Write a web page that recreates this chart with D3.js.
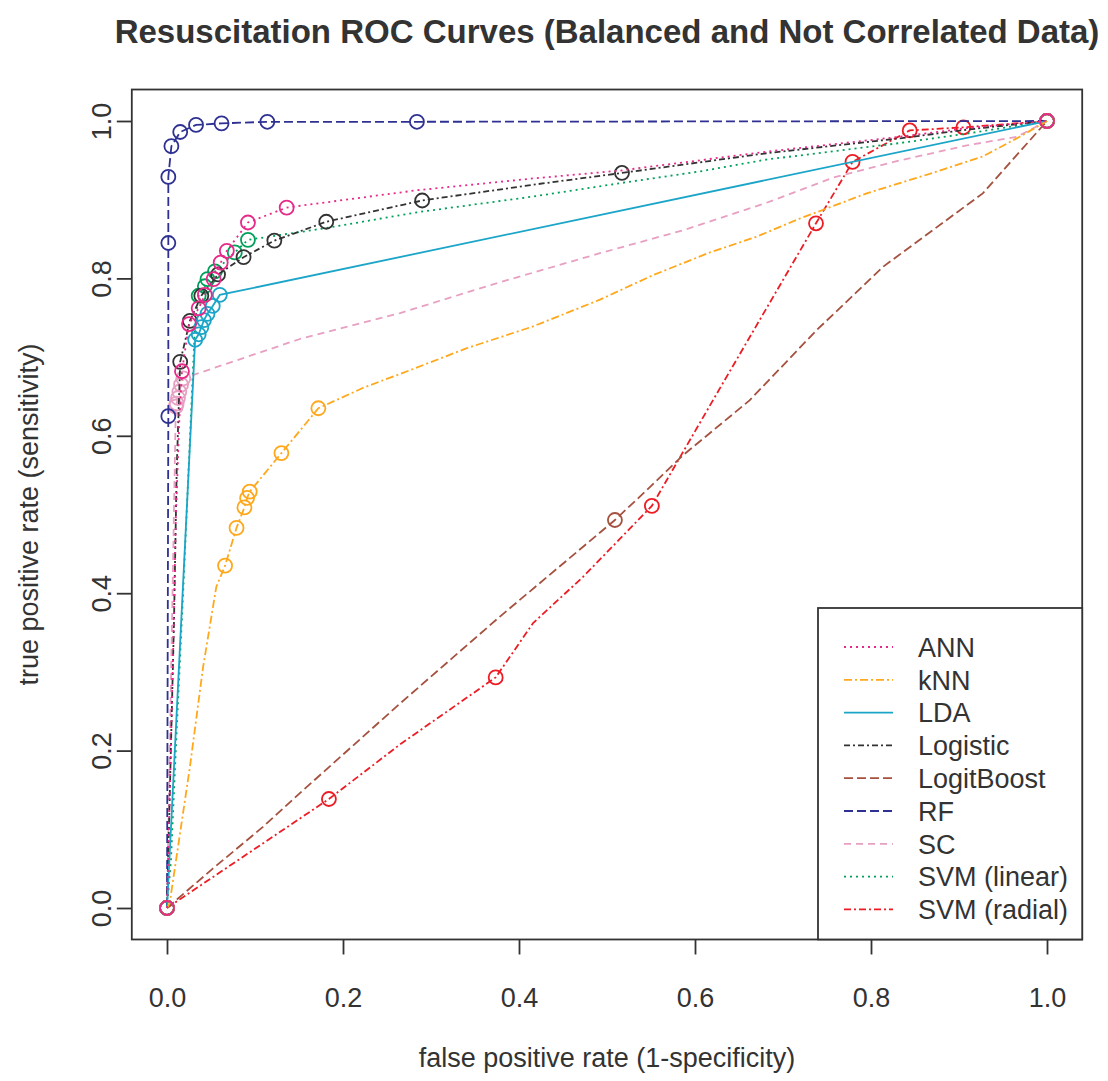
<!DOCTYPE html>
<html>
<head>
<meta charset="utf-8">
<script src="https://cdn.jsdelivr.net/npm/d3@7"></script>
<style>
  body { margin: 0; background: #fff; }
  svg text { font-family: "Liberation Sans", Arial, Helvetica, sans-serif; fill: #333; }
</style>
</head>
<body>
<script>
// model names, legend order
const models = ["ANN", "kNN", "LDA", "Logistic", "LogitBoost", "RF", "SC", "SVM (linear)", "SVM (radial)"];

// ROC curves (false positive rate / true positive rate)
const annFpr = [0, 0.003, 0.007, 0.010, 0.014, 0.017, 0.025, 0.036, 0.043, 0.053, 0.061, 0.068, 0.092, 0.136, 0.284, 0.416, 0.515, 0.681, 0.833, 0.909, 1];
const annTpr = [0, 0.137, 0.328, 0.493, 0.620, 0.682, 0.742, 0.762, 0.779, 0.799, 0.820, 0.835, 0.871, 0.890, 0.912, 0.927, 0.937, 0.961, 0.980, 0.991, 1];
const annMarks = [0, 5, 6, 7, 8, 9, 10, 11, 12, 13, 20];

const knnFpr = [0, 0.003, 0.026, 0.041, 0.056, 0.066, 0.079, 0.088, 0.091, 0.094, 0.130, 0.172, 0.223, 0.280, 0.340, 0.416, 0.492, 0.552, 0.617, 0.670, 0.719, 0.795, 0.870, 0.927, 0.969, 1];
const knnTpr = [0, 0.006, 0.179, 0.306, 0.408, 0.435, 0.483, 0.509, 0.521, 0.529, 0.578, 0.635, 0.661, 0.685, 0.711, 0.739, 0.773, 0.804, 0.833, 0.853, 0.876, 0.908, 0.934, 0.955, 0.980, 1];
const knnMarks = [0, 5, 6, 7, 8, 9, 10, 11, 25];

const ldaFpr = [0, 0.032, 0.036, 0.039, 0.042, 0.046, 0.052, 0.060, 1];
const ldaTpr = [0, 0.722, 0.729, 0.738, 0.747, 0.755, 0.765, 0.779, 1];
const ldaMarks = [0, 1, 2, 3, 4, 5, 6, 7, 8];

const logFpr = [0, 0.003, 0.008, 0.011, 0.015, 0.026, 0.039, 0.058, 0.087, 0.122, 0.181, 0.290, 0.416, 0.517, 0.681, 0.833, 0.909, 1];
const logTpr = [0, 0.137, 0.366, 0.556, 0.694, 0.746, 0.778, 0.805, 0.827, 0.848, 0.872, 0.899, 0.919, 0.934, 0.959, 0.978, 0.989, 1];
const logMarks = [0, 4, 5, 6, 7, 8, 9, 10, 11, 13, 17];

const lbFpr = [0, 0.052, 0.109, 0.151, 0.265, 0.378, 0.509, 0.549, 0.586, 0.662, 0.738, 0.814, 0.927, 1];
const lbTpr = [0, 0.050, 0.103, 0.146, 0.260, 0.370, 0.493, 0.535, 0.575, 0.645, 0.734, 0.815, 0.908, 1];
const lbMarks = [0, 6, 13];

const rfFpr = [0, 0.0015, 0.0015, 0.0015, 0.005, 0.015, 0.033, 0.062, 0.114, 0.284, 1];
const rfTpr = [0, 0.625, 0.845, 0.929, 0.968, 0.986, 0.995, 0.997, 0.999, 0.999, 1];
const rfMarks = [0, 1, 2, 3, 4, 5, 6, 7, 8, 9, 10];

const scFpr = [0, 0.010, 0.011, 0.0125, 0.014, 0.016, 0.0185, 0.151, 0.265, 0.378, 0.492, 0.586, 0.681, 0.757, 0.833, 0.909, 0.966, 1];
const scTpr = [0, 0.637, 0.641, 0.648, 0.656, 0.665, 0.673, 0.723, 0.756, 0.795, 0.832, 0.861, 0.896, 0.928, 0.950, 0.969, 0.980, 1];
const scMarks = [0, 1, 2, 3, 4, 5, 6, 17];

const svlFpr = [0, 0.0045, 0.011, 0.019, 0.028, 0.032, 0.036, 0.043, 0.046, 0.0545, 0.077, 0.092, 0.181, 0.284, 0.416, 0.515, 0.606, 0.681, 0.833, 0.909, 1];
const svlTpr = [0, 0.061, 0.226, 0.417, 0.646, 0.747, 0.778, 0.790, 0.799, 0.809, 0.833, 0.849, 0.864, 0.884, 0.904, 0.921, 0.936, 0.951, 0.972, 0.984, 1];
const svlMarks = [0, 6, 7, 8, 9, 10, 11, 20];

const svrFpr = [0, 0.184, 0.265, 0.3735, 0.416, 0.473, 0.551, 0.625, 0.7375, 0.779, 0.844, 0.905, 1];
const svrTpr = [0, 0.1385, 0.208, 0.293, 0.362, 0.421, 0.511, 0.654, 0.870, 0.948, 0.988, 0.992, 1];
const svrMarks = [0, 1, 3, 6, 8, 9, 10, 11, 12];

const xTicks = [0, 0.2, 0.4, 0.6, 0.8, 1.0];
const yTicks = [0, 0.2, 0.4, 0.6, 0.8, 1.0];

const colors = ["#e7298a", "#ffa81c", "#1ba5c8", "#333333", "#a5513f", "#2e3192", "#e8a0c2", "#00a05a", "#ed1c24"];
const dashes = ["2 4", "8 3 2 3", null, "6 3 2 3", "9 4", "9 4", "7 5", "2 4", "7 3 2 3"];

const curves = [
  [annFpr, annTpr, annMarks], [knnFpr, knnTpr, knnMarks], [ldaFpr, ldaTpr, ldaMarks],
  [logFpr, logTpr, logMarks], [lbFpr, lbTpr, lbMarks], [rfFpr, rfTpr, rfMarks],
  [scFpr, scTpr, scMarks], [svlFpr, svlTpr, svlMarks], [svrFpr, svrTpr, svrMarks]
];

const width = 1108;
const height = 1081;

const svg = d3.select("body")
  .append("svg")
  .attr("width", width)
  .attr("height", height);

const x = d3.scaleLinear().domain([0, 1]).range([167, 1047]);
const y = d3.scaleLinear().domain([0, 1]).range([908, 121]);

const boxLeft = x(-0.04), boxRight = x(1.04), boxTop = y(1.04), boxBottom = y(-0.04);

// title
svg.append("text")
  .attr("x", (boxLeft + boxRight) / 2)
  .attr("y", 43)
  .attr("text-anchor", "middle")
  .style("font-size", "33px")
  .style("font-weight", "bold")
  .text("Resuscitation ROC Curves (Balanced and Not Correlated Data)");

// axes
const xAxis = svg.append("g")
  .attr("transform", `translate(0,${boxBottom})`)
  .call(d3.axisBottom(x).tickValues(xTicks).tickFormat(d3.format(".1f"))
    .tickSize(15).tickSizeOuter(0).tickPadding(33));
xAxis.selectAll("text").style("font-size", "27px");

const yAxis = svg.append("g")
  .attr("transform", `translate(${boxLeft},0)`)
  .call(d3.axisLeft(y).tickValues(yTicks).tickFormat(d3.format(".1f"))
    .tickSize(15).tickSizeOuter(0));
yAxis.selectAll("text")
  .attr("x", null).attr("dy", null)
  .attr("text-anchor", "middle")
  .attr("transform", "translate(-21,0) rotate(-90)")
  .style("font-size", "27px");

svg.selectAll(".domain").remove();
svg.selectAll(".tick line").attr("stroke", "#333").attr("stroke-width", 1.8);

svg.append("text")
  .attr("x", (boxLeft + boxRight) / 2)
  .attr("y", 1067)
  .attr("text-anchor", "middle")
  .style("font-size", "27px")
  .text("false positive rate (1-specificity)");

svg.append("text")
  .attr("transform", `translate(38,${(boxTop + boxBottom) / 2}) rotate(-90)`)
  .attr("text-anchor", "middle")
  .style("font-size", "27px")
  .text("true positive rate (sensitivity)");

// curves, last model first so ANN ends on top
const line = d3.line().x(d => x(d[0])).y(d => y(d[1]));

d3.range(models.length).reverse().forEach(i => {
  const [fpr, tpr, marks] = curves[i];
  const pts = fpr.map((f, j) => [f, tpr[j]]);
  svg.append("path")
    .datum(pts)
    .attr("d", line)
    .attr("fill", "none")
    .attr("stroke", colors[i])
    .attr("stroke-width", 1.8)
    .attr("stroke-dasharray", dashes[i]);
  svg.selectAll(null)
    .data(marks.map(j => pts[j]))
    .enter()
    .append("circle")
    .attr("cx", d => x(d[0]))
    .attr("cy", d => y(d[1]))
    .attr("r", 7)
    .attr("fill", "none")
    .attr("stroke", colors[i])
    .attr("stroke-width", 1.8);
});

// plot box
svg.append("rect")
  .attr("x", boxLeft).attr("y", boxTop)
  .attr("width", boxRight - boxLeft).attr("height", boxBottom - boxTop)
  .attr("fill", "none")
  .attr("stroke", "#333")
  .attr("stroke-width", 1.8);

// legend
const lg = svg.append("g");
lg.append("rect")
  .attr("x", 818).attr("y", 608)
  .attr("width", boxRight - 818).attr("height", boxBottom - 608)
  .attr("fill", "#fff")
  .attr("stroke", "#333")
  .attr("stroke-width", 1.8);

const rows = lg.selectAll(".row")
  .data(models)
  .enter()
  .append("g")
  .attr("transform", (d, i) => `translate(0,${647 + i * 32.8})`);

rows.append("line")
  .attr("x1", 844).attr("x2", 893)
  .attr("stroke", (d, i) => colors[i])
  .attr("stroke-width", 1.8)
  .attr("stroke-dasharray", (d, i) => dashes[i]);

rows.append("text")
  .attr("x", 918)
  .attr("dy", "0.36em")
  .style("font-size", "27px")
  .text(d => d);
</script>
</body>
</html>
